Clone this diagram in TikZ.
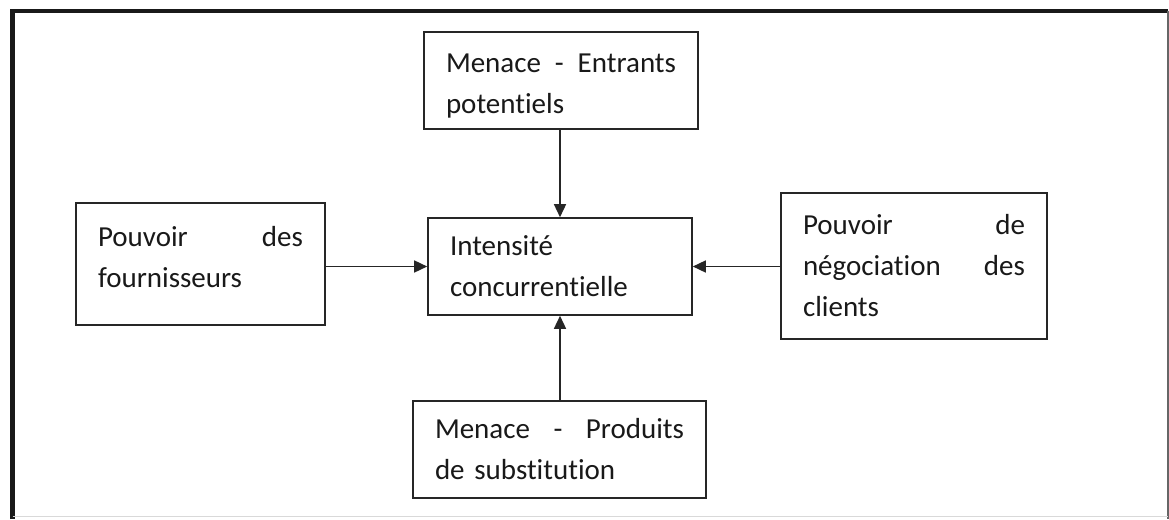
\documentclass[tikz,border=0pt]{standalone}
\usepackage{fontspec}
\setmainfont[Ligatures={NoCommon}]{Carlito}
\usetikzlibrary{arrows.meta}
\begin{document}
\begin{tikzpicture}[x=1pt,y=-1pt,
  box/.style={draw=black!85,line width=1.6pt,rectangle,inner xsep=22pt,inner ysep=0pt,
    align=left,font=\fontsize{29}{41}\selectfont,text=black!90},
  link/.style={draw=black!85,line width=1.5pt,-{Triangle[length=13pt,width=12pt]}}]
\useasboundingbox (0,0) rectangle (1169,519);
\fill[white] (0,0) rectangle (1169,519);
% outer frame
\draw[line width=4.5pt,black!90] (12.5,519) -- (12.5,11) -- (1168,11);
\draw[line width=1.2pt,black!60] (1168,11) -- (1168,519);
\draw[line width=1pt,black!15] (12.5,516) -- (1168,516);

% forces
\node[box,text width=230pt,minimum height=97pt] (entrants) at (561,80.5)
  {\rule{0pt}{30pt}Menace\hfill-\hfill Entrants\\potentiels};
\node[box,text width=205pt,minimum height=122pt] (fourn) at (200.5,264)
  {Pouvoir\hfill des\\fournisseurs\par\vspace{14pt}};
\node[box,text width=222pt,minimum height=146pt] (clients) at (914,266)
  {Pouvoir\hfill de\\négociation\hfill des\\clients};
\node[box,text width=220pt,minimum height=97pt] (mid) at (560,266.5)
  {Intensité\\concurrentielle};
\node[box,text width=249pt,minimum height=97pt] (subst) at (559.5,449.5)
  {Menace\hfill-\hfill Produits\\de substitution};

% arrows toward the centre
\draw[link] (entrants.south -| mid.north) -- (mid.north);
\draw[link] (fourn.east |- mid.west) -- (mid.west);
\draw[link] (clients.west |- mid.east) -- (mid.east);
\draw[link] (subst.north -| mid.south) -- (mid.south);
\end{tikzpicture}
\end{document}
